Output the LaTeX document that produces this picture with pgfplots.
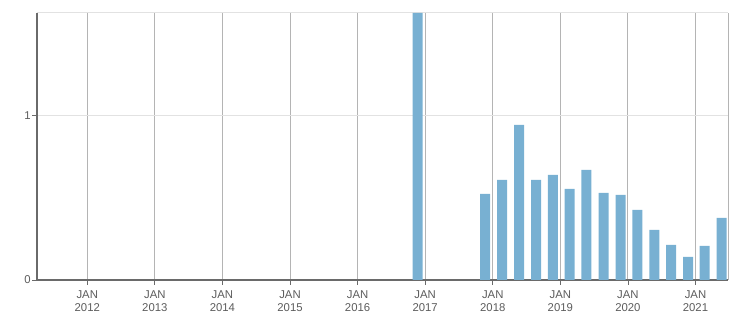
\documentclass[border=0pt]{standalone}
\usepackage{fontspec}
\setmainfont{Liberation Sans}
\usepackage{pgfplots}
\pgfplotsset{compat=1.18}
\definecolor{barblue}{HTML}{78B0D2}
\definecolor{axdark}{HTML}{6A6A6A}
\definecolor{gridv}{HTML}{B4B4B4}
\definecolor{gridh}{HTML}{E2E2E2}
\definecolor{lbl}{HTML}{5C5C5C}
\begin{document}
\begin{tikzpicture}[x=0.75pt,y=0.75pt]
\begin{axis}[
  at={(0,0)}, anchor=origin,
  scale only axis, width=518.25pt, height=200.25pt,
  xmin=2011.256, xmax=2021.48, ymin=0, ymax=1.62,
  axis x line*=bottom, axis y line*=left,
  axis line style={-, axdark, line width=0.9pt},
  xtick={2012,...,2021},
  xticklabels={{JAN\\2012},{JAN\\2013},{JAN\\2014},{JAN\\2015},{JAN\\2016},{JAN\\2017},{JAN\\2018},{JAN\\2019},{JAN\\2020},{JAN\\2021}},
  minor x tick num=3,
  ytick={0,1},
  extra y ticks={1.62}, extra y tick labels={},
  extra y tick style={grid style={gridh, line width=0.75pt}, tick style={draw=none}},
  extra x ticks={2021.48}, extra x tick labels={},
  extra x tick style={grid style={gridh, line width=0.75pt}, tick style={draw=none}},
  xmajorgrids, ymajorgrids,
  x grid style={gridv, line width=0.75pt},
  y grid style={gridh, line width=0.75pt},
  tick align=outside,
  major tick length=3.5pt, minor tick length=2.2pt,
  tick style={axdark, line width=0.6pt},
  xticklabel style={align=center, font=\fontsize{8.5}{9.4}\selectfont, text=lbl, yshift=-1pt},
  yticklabel style={font=\fontsize{8.5}{9.4}\selectfont, text=lbl, inner sep=1pt},
  /pgf/number format/assume math mode=true,
  clip=true,
]
\addplot[ybar, bar width=0.148, bar shift=0pt, fill=barblue, draw=none] coordinates {
(2016.886,1.62)
(2017.886,0.522)
(2018.137,0.607)
(2018.390,0.941)
(2018.640,0.607)
(2018.890,0.638)
(2019.135,0.553)
(2019.385,0.668)
(2019.640,0.528)
(2019.890,0.516)
(2020.140,0.425)
(2020.390,0.304)
(2020.640,0.213)
(2020.890,0.140)
(2021.135,0.207)
(2021.385,0.377)
};
\end{axis}
\pgfresetboundingbox
\path (-37,-33) rectangle (714,280);
\end{tikzpicture}
\end{document}
